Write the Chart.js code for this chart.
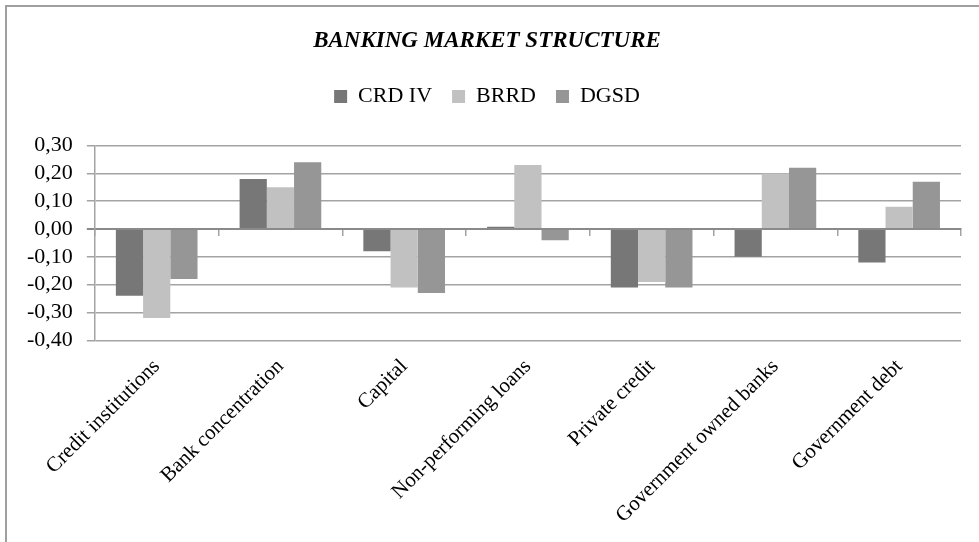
<!DOCTYPE html>
<html>
<head>
<meta charset="utf-8">
<script src="https://cdn.jsdelivr.net/npm/chart.js@4"></script>
<style>
    html, body { margin: 0; padding: 0; background: #fff; }
    #wrap { position: relative; width: 979px; height: 542px; overflow: hidden; }
    #frame {
        position: absolute; left: 5px; top: 5px; width: 1000px; height: 600px;
        border-top: 2px solid #a0a0a0; border-left: 2px solid #a0a0a0;
        pointer-events: none;
    }
    canvas { position: absolute; left: 0; top: 0; }
</style>
</head>
<body>
<div id="wrap">
    <canvas id="marketChart" width="997" height="542"></canvas>
    <div id="frame"></div>
</div>
<script>
// Banking market structure - correlation by directive
const categories = [
    'Credit institutions',
    'Bank concentration',
    'Capital',
    'Non-performing loans',
    'Private credit',
    'Government owned banks',
    'Government debt'
];

const crdIV = [-0.24, 0.18, -0.08, 0.008, -0.21, -0.10, -0.12];
const brrd  = [-0.32, 0.15, -0.21, 0.23, -0.19, 0.20, 0.08];
const dgsd  = [-0.18, 0.24, -0.23, -0.04, -0.21, 0.22, 0.17];

const yTicks = [0.30, 0.20, 0.10, 0.00, -0.10, -0.20, -0.30, -0.40];

const colors = {
    crd: '#777777',
    brrd: '#c1c1c1',
    dgsd: '#969696',
    grid: '#a3a3a3',
    zero: '#8a8a8a'
};

const serif = "'Liberation Serif', 'Times New Roman', serif";

function fmt(v) {
    return v.toFixed(2).replace('.', ',');
}

// give the legend some extra room underneath
const legendSpace = {
    id: 'legendSpace',
    beforeInit: function(chart) {
        const origFit = chart.legend.fit;
        chart.legend.fit = function() {
            origFit.bind(chart.legend)();
            this.height += 28;
        };
    }
};

const ctx = document.getElementById('marketChart');

new Chart(ctx, {
    type: 'bar',
    data: {
        labels: categories,
        datasets: [
            { label: 'CRD IV', data: crdIV, backgroundColor: colors.crd },
            { label: 'BRRD', data: brrd, backgroundColor: colors.brrd },
            { label: 'DGSD', data: dgsd, backgroundColor: colors.dgsd }
        ]
    },
    plugins: [legendSpace],
    options: {
        responsive: false,
        animation: false,
        devicePixelRatio: 1,
        layout: {
            padding: { left: 13, right: 36, top: 0, bottom: 0 }
        },
        datasets: {
            bar: {
                barPercentage: 1,
                categoryPercentage: 0.66
            }
        },
        plugins: {
            title: {
                display: true,
                text: 'BANKING MARKET STRUCTURE',
                color: '#000',
                font: { family: serif, size: 23, style: 'italic', weight: 'bold' },
                padding: { top: 27, bottom: 11 }
            },
            legend: {
                position: 'top',
                labels: {
                    color: '#000',
                    font: { family: serif, size: 22 },
                    boxWidth: 13,
                    boxHeight: 13,
                    padding: 20
                }
            },
            tooltip: { enabled: false }
        },
        scales: {
            x: {
                position: 'bottom',
                border: { display: false },
                grid: { display: false, drawTicks: false },
                ticks: {
                    color: '#000',
                    font: { family: serif, size: 21 },
                    minRotation: 45,
                    maxRotation: 45,
                    padding: 14,
                    autoSkip: false
                }
            },
            xZero: {
                type: 'category',
                axis: 'x',
                position: { y: 0 },
                offset: true,
                border: { display: true, color: colors.zero, width: 2 },
                grid: {
                    offset: true,
                    drawOnChartArea: false,
                    tickLength: 6,
                    color: colors.grid,
                    lineWidth: 1.5
                },
                ticks: { display: false }
            },
            y: {
                min: -0.40,
                max: 0.30,
                border: { display: true, color: colors.grid, width: 1.5 },
                grid: {
                    tickLength: 8,
                    color: function(c) {
                        return c.tick && Math.abs(c.tick.value) < 1e-9 ? colors.zero : colors.grid;
                    },
                    lineWidth: function(c) {
                        return c.tick && Math.abs(c.tick.value) < 1e-9 ? 2 : 1.5;
                    }
                },
                afterBuildTicks: function(scale) {
                    scale.ticks = yTicks.map(v => ({ value: v }));
                },
                ticks: {
                    color: '#000',
                    font: { family: serif, size: 22 },
                    padding: 14,
                    autoSkip: false,
                    callback: function(value) {
                        return fmt(value);
                    }
                }
            }
        }
    }
});
</script>
</body>
</html>
